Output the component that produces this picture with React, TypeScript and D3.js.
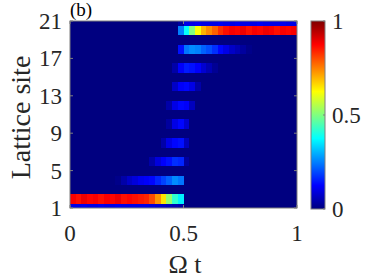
import React from "react";
import * as d3 from "d3";

// Time columns: 40 bins over Ω t ∈ [0, 1]
const N_COLS = 40;
const SITES = d3.range(1, 22);
const yTicks = [1, 5, 9, 13, 17, 21];
const xTicks = [0, 0.5, 1];
const xTickLabels = ["0", "0.5", "1"];
const cbTicks = [0, 0.5, 1];
const cbTickLabels = ["0", "0.5", "1"];

// Occupation per lattice site over the 40 time bins (sites not listed are ~0)
const site1 = [0.1,0.1,0.11,0.1,0.1,0.11,0.1,0.1,0.11,0.1,0.1,0.1,0.1,0.1,0.09,0.08,0.07,0.06,0.05,0.04,0,0,0,0,0,0,0,0,0,0,0,0,0,0,0,0,0,0,0,0];
const site2 = [0.88,0.86,0.89,0.87,0.88,0.86,0.88,0.87,0.89,0.86,0.87,0.86,0.85,0.84,0.8,0.73,0.65,0.52,0.42,0.36,0,0,0,0,0,0,0,0,0,0,0,0,0,0,0,0,0,0,0,0];
const site4 = [0,0,0,0,0,0,0,0,0.01,0.04,0.07,0.09,0.11,0.12,0.13,0.16,0.19,0.22,0.26,0.24,0,0,0,0,0,0,0,0,0,0,0,0,0,0,0,0,0,0,0,0];
const site6 = [0,0,0,0,0,0,0,0,0,0,0,0,0,0,0.04,0.09,0.12,0.14,0.17,0.16,0.03,0,0,0,0,0,0,0,0,0,0,0,0,0,0,0,0,0,0,0];
const site8 = [0,0,0,0,0,0,0,0,0,0,0,0,0,0,0,0,0.04,0.1,0.13,0.14,0.06,0,0,0,0,0,0,0,0,0,0,0,0,0,0,0,0,0,0,0];
const site10 = [0,0,0,0,0,0,0,0,0,0,0,0,0,0,0,0,0,0.03,0.1,0.13,0.08,0,0,0,0,0,0,0,0,0,0,0,0,0,0,0,0,0,0,0];
const site12 = [0,0,0,0,0,0,0,0,0,0,0,0,0,0,0,0,0,0.04,0.1,0.13,0.12,0.06,0,0,0,0,0,0,0,0,0,0,0,0,0,0,0,0,0,0];
const site14 = [0,0,0,0,0,0,0,0,0,0,0,0,0,0,0,0,0,0,0.07,0.12,0.13,0.1,0.04,0,0,0,0,0,0,0,0,0,0,0,0,0,0,0,0,0];
const site16 = [0,0,0,0,0,0,0,0,0,0,0,0,0,0,0,0,0,0,0.04,0.12,0.15,0.14,0.12,0.08,0.05,0.02,0,0,0,0,0,0,0,0,0,0,0,0,0,0];
const site18 = [0,0,0,0,0,0,0,0,0,0,0,0,0,0,0,0,0,0,0,0.14,0.24,0.26,0.25,0.22,0.2,0.17,0.13,0.1,0.07,0.05,0.03,0.01,0,0,0,0,0,0,0,0];
const site20 = [0,0,0,0,0,0,0,0,0,0,0,0,0,0,0,0,0,0,0,0.25,0.38,0.5,0.62,0.7,0.74,0.78,0.83,0.86,0.88,0.87,0.89,0.86,0.88,0.87,0.89,0.88,0.86,0.88,0.87,0.88];
const site21 = [0,0,0,0,0,0,0,0,0,0,0,0,0,0,0,0,0,0,0,0.03,0.1,0.1,0.11,0.1,0.1,0.1,0.11,0.1,0.1,0.11,0.1,0.1,0.1,0.11,0.1,0.1,0.1,0.11,0.1,0.1];

const siteData: Record<number, number[]> = {
  1: site1, 2: site2, 4: site4, 6: site6, 8: site8, 10: site10,
  12: site12, 14: site14, 16: site16, 18: site18, 20: site20, 21: site21,
};

// MATLAB jet colormap
function jet(v: number): string {
  const t = Math.max(0, Math.min(1, v));
  const c = (x: number) => Math.max(0, Math.min(1, x));
  const r = c(Math.min(4 * t - 1.5, -4 * t + 4.5));
  const g = c(Math.min(4 * t - 0.5, -4 * t + 3.5));
  const b = c(Math.min(4 * t + 0.5, -4 * t + 2.5));
  return d3.rgb(r * 255, g * 255, b * 255).formatHex();
}

const W = 374, H = 280;
const PL = 70, PR = 297, PT = 21, PB = 208;
const CBL = 311, CBR = 325, CBT = 21, CBB = 209;
const AXIS = "#7f7f7f";
const FF = "Liberation Serif";

export default function App() {
  const x = d3.scaleLinear().domain([0, 1]).range([PL, PR]);
  const y = d3.scaleLinear().domain([1, 21]).range([PB, PT]);
  const cb = d3.scaleLinear().domain([0, 1]).range([CBB, CBT]);

  const cells: React.ReactNode[] = [];
  SITES.forEach((s) => {
    const vals = siteData[s];
    const yTop = y(Math.min(s + 0.5, 21));
    const yBot = y(Math.max(s - 0.5, 1));
    for (let k = 0; k < N_COLS; k++) {
      const v = vals ? vals[k] : 0;
      const x0 = x(k / N_COLS);
      const x1 = x((k + 1) / N_COLS);
      cells.push(
        <rect key={`${s}-${k}`} x={x0} y={yTop} width={x1 - x0 + 0.3} height={yBot - yTop + 0.3} fill={jet(v)} />
      );
    }
  });

  const cbStops = d3.range(0, 1.0001, 1 / 64);

  return (
    <div style={{ position: "fixed", left: 0, top: 0 }}>
      <svg width={W} height={H} style={{ display: "block", background: "#fff" }}>
        <defs>
          <linearGradient id="jetgrad" x1="0" y1="1" x2="0" y2="0">
            {cbStops.map((v) => (
              <stop key={v} offset={v} stopColor={jet(v)} />
            ))}
          </linearGradient>
        </defs>
        <g shapeRendering="crispEdges">{cells}</g>
        <rect x={PL} y={PT} width={PR - PL} height={PB - PT} fill="none" stroke={AXIS} strokeWidth={1} />
        {yTicks.map((t) => (
          <g key={`yt${t}`}>
            <line x1={PL} x2={PL + 3} y1={y(t)} y2={y(t)} stroke={AXIS} />
            <line x1={PR} x2={PR - 3} y1={y(t)} y2={y(t)} stroke={AXIS} />
            <text x={62} y={y(t)} dy="0.35em" textAnchor="end" fontFamily={FF} fontSize={23} fill="#262626">{t}</text>
          </g>
        ))}
        {xTicks.map((t, i) => (
          <g key={`xt${t}`}>
            <line x1={x(t)} x2={x(t)} y1={PB} y2={PB - 3} stroke={AXIS} />
            <line x1={x(t)} x2={x(t)} y1={PT} y2={PT + 3} stroke={AXIS} />
            <text x={x(t)} y={241} textAnchor="middle" fontFamily={FF} fontSize={23} fill="#262626">{xTickLabels[i]}</text>
          </g>
        ))}
        <text x={185} y={273} textAnchor="middle" fontFamily={FF} fontSize={26} fill="#262626">Ω t</text>
        <text transform={`translate(30,${(PT + PB) / 2 + 3}) rotate(-90)`} textAnchor="middle" fontFamily={FF} fontSize={28} fill="#262626">Lattice site</text>
        <text x={70} y={16} fontFamily={FF} fontSize={19} fill="#000">(b)</text>
        <rect x={CBL} y={CBT} width={CBR - CBL} height={CBB - CBT} fill="url(#jetgrad)" stroke={AXIS} strokeWidth={1} />
        {cbTicks.map((t, i) => (
          <g key={`cb${t}`}>
            <line x1={CBR} x2={CBR - 2} y1={cb(t)} y2={cb(t)} stroke={AXIS} />
            <text x={332} y={cb(t)} dy="0.35em" fontFamily={FF} fontSize={23} fill="#262626">{cbTickLabels[i]}</text>
          </g>
        ))}
      </svg>
    </div>
  );
}
